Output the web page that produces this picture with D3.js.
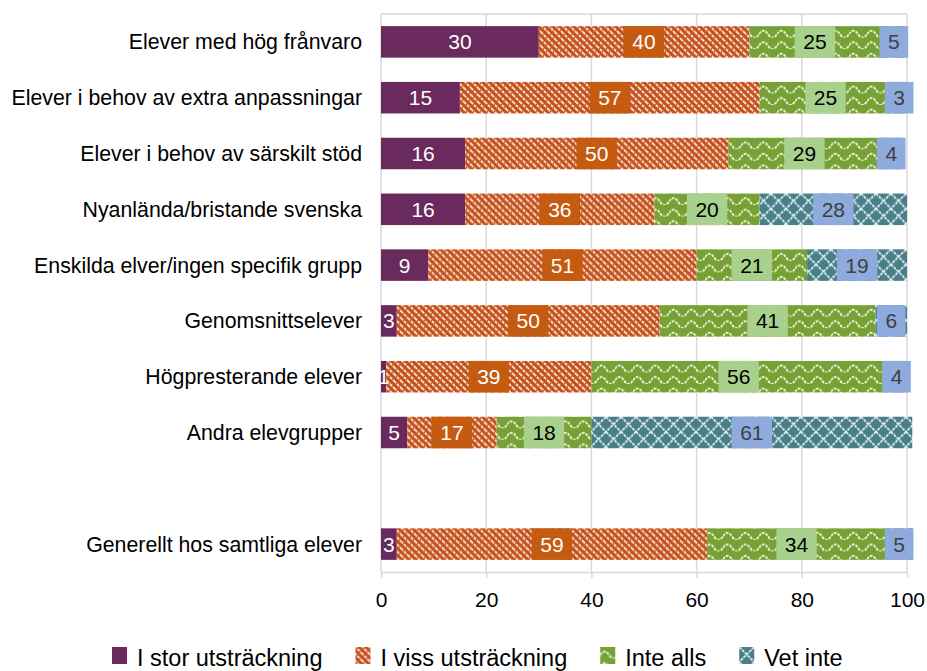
<!DOCTYPE html>
<html>
<head>
<meta charset="utf-8">
<script src="https://cdn.jsdelivr.net/npm/d3@7"></script>
<style>
  body { margin: 0; background: #fff; }
  svg { font-family: "Liberation Sans", Arial, sans-serif; }
</style>
</head>
<body>
<svg width="927" height="671"></svg>
<script>
const categories = [
	"Elever med hög frånvaro",
	"Elever i behov av extra anpassningar",
	"Elever i behov av särskilt stöd",
	"Nyanlända/bristande svenska",
	"Enskilda elver/ingen specifik grupp",
	"Genomsnittselever",
	"Högpresterande elever",
	"Andra elevgrupper",
	"Generellt hos samtliga elever"
]
const stor = [30, 15, 16, 16, 9, 3, 1, 5, 3]
const viss = [40, 57, 50, 36, 51, 50, 39, 17, 59]
const inteAlls = [25, 25, 29, 20, 21, 41, 56, 18, 34]
const vetInte = [5, 3, 4, 28, 19, 6, 4, 61, 5]
const seriesNames = ["I stor utsträckning", "I viss utsträckning", "Inte alls", "Vet inte"]
const xTicks = [0, 20, 40, 60, 80, 100]

// blank slot before the last row
const yDomain = categories.slice(0, 8).concat([""], categories.slice(8))

var svg = d3.select("svg"),
	margin = { top: 14, right: 20, bottom: 99, left: 381 },
	width = 927 - margin.left - margin.right,
	height = 671 - margin.top - margin.bottom

var defs = svg.append("defs")

function pattern(id, w, h, bg, draw) {
	var p = defs.append("pattern")
		.attr("id", id)
		.attr("patternUnits", "userSpaceOnUse")
		.attr("width", w)
		.attr("height", h)
	p.append("rect").attr("width", w).attr("height", h).attr("fill", bg)
	draw(p)
}

pattern("p-stripe", 7, 7, "#c4521c", function (p) {
	p.append("path")
		.attr("d", "M-1,-1L8,8M-1,6L1,8M6,-1L8,1")
		.attr("stroke", "#fae2d4")
		.attr("stroke-width", 1.9)
		.attr("stroke-dasharray", "3,1.2")
})
pattern("p-wave", 18, 11.5, "#78a135", function (p) {
	p.append("path")
		.attr("d", "M0,8Q4.5,1 9,8T18,8")
		.attr("fill", "none")
		.attr("stroke", "#edf5e1")
		.attr("stroke-width", 1.8)
		.attr("stroke-dasharray", "3,1")
})
pattern("p-cross", 15, 15, "#4a7f89", function (p) {
	p.append("path")
		.attr("d", "M0,0L15,15M15,0L0,15")
		.attr("stroke", "#e3f2f4")
		.attr("stroke-width", 1.7)
		.attr("stroke-dasharray", "3,1")
})

const fills = ["#6b2a5d", "url(#p-stripe)", "url(#p-wave)", "url(#p-cross)"]
const boxFills = [null, "#c55a11", "#a9d18e", "#8faadc"]
const textFills = ["#fff", "#fff", "#000", "#404040"]

var g = svg.append("g")
	.attr("transform", "translate(" + margin.left + "," + margin.top + ")")

var x = d3.scaleLinear().domain([0, 100]).range([0, width])
var y = d3.scaleBand()
	.domain(yDomain)
	.range([0, height])
	.paddingInner(0.435)
	.paddingOuter(0.2175)

// grid + frame
g.append("g")
	.selectAll("line")
	.data(xTicks)
	.enter()
	.append("line")
	.attr("x1", d => x(d)).attr("x2", d => x(d))
	.attr("y1", 0).attr("y2", height)
	.attr("stroke", "#d9d9d9")
	.attr("stroke-width", 1.5)
g.append("line")
	.attr("x1", 0).attr("x2", width)
	.attr("y1", 0).attr("y2", 0)
	.attr("stroke", "#d9d9d9")
	.attr("stroke-width", 1.5)

// x axis
var xAxis = g.append("g")
	.attr("transform", "translate(0," + height + ")")
	.call(d3.axisBottom(x).tickValues(xTicks).tickSize(6).tickPadding(14).tickSizeOuter(0))
xAxis.select(".domain").attr("stroke", "#d9d9d9").attr("stroke-width", 1.5)
xAxis.selectAll(".tick line").attr("stroke", "#d9d9d9").attr("stroke-width", 1.5)
xAxis.selectAll(".tick text")
	.attr("fill", "#000")
	.style("font-size", "21px")
	.style("font-family", "'Liberation Sans', Arial, sans-serif")

// category labels
g.append("g")
	.selectAll("text")
	.data(categories)
	.enter()
	.append("text")
	.attr("x", -19)
	.attr("y", d => y(d) + y.bandwidth() / 2)
	.attr("dy", "0.35em")
	.attr("text-anchor", "end")
	.attr("fill", "#000")
	.style("font-size", "21.3px")
	.text(d => d)

// stacked rows
var series = [stor, viss, inteAlls, vetInte]
categories.forEach(function (cat, i) {
	var row = g.append("g").attr("transform", "translate(0," + y(cat) + ")")
	var start = 0
	var segs = series.map(function (s, k) {
		var seg = { k: k, v: s[i], x0: start, x1: start + s[i] }
		start += s[i]
		return seg
	})
	row.selectAll("rect.seg")
		.data(segs)
		.enter()
		.append("rect")
		.attr("class", "seg")
		.attr("x", d => x(d.x0))
		.attr("width", d => x(d.x1) - x(d.x0))
		.attr("height", y.bandwidth())
		.attr("fill", d => fills[d.k])

	segs.forEach(function (d) {
		var cx = x((d.x0 + d.x1) / 2)
		var box = row.append("rect")
		var t = row.append("text")
			.attr("x", cx)
			.attr("y", y.bandwidth() / 2)
			.attr("dy", "0.36em")
			.attr("text-anchor", "middle")
			.attr("fill", textFills[d.k])
			.style("font-size", "21px")
			.text(d.v)
		if (boxFills[d.k]) {
			var w = t.node().getComputedTextLength() + 17
			box.attr("x", cx - w / 2)
				.attr("width", w)
				.attr("height", y.bandwidth())
				.attr("fill", boxFills[d.k])
		} else {
			box.remove()
		}
	})
})

// legend
var lg = svg.append("g").attr("transform", "translate(112,647)")
var lx = 0
seriesNames.forEach(function (name, k) {
	var item = lg.append("g").attr("transform", "translate(" + lx + ",0)")
	item.append("rect")
		.attr("width", 15)
		.attr("height", 17)
		.attr("fill", fills[k])
	var t = item.append("text")
		.attr("x", 25)
		.attr("y", 19)
		.attr("fill", "#000")
		.style("font-size", "23.5px")
		.text(name)
	lx += 25 + t.node().getComputedTextLength() + 33
})
</script>
</body>
</html>
